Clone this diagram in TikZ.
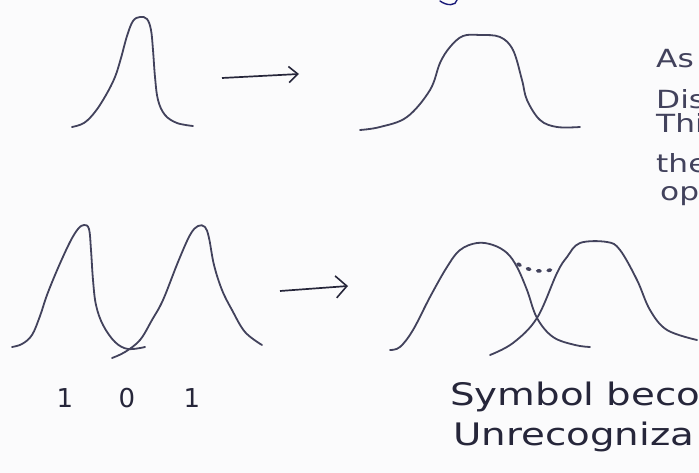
\documentclass[tikz,border=0pt]{standalone}
\usepackage{fontspec}
\setmainfont{DejaVu Sans}
\newfontfamily\handfont[FakeStretch=1.25]{DejaVu Sans}
\usetikzlibrary{arrows.meta}
\definecolor{pencil}{RGB}{66,66,92}
\definecolor{ink}{RGB}{38,38,58}
\definecolor{paper}{RGB}{251,251,252}
\definecolor{blueink}{RGB}{25,25,120}

\begin{document}
\begin{tikzpicture}[x=1pt, y=-1pt,
    pulse/.style={draw=pencil, line width=1.8pt, line cap=round, line join=round},
    arr/.style={draw=ink, line width=1.7pt, -{Straight Barb[length=9pt, width=16pt, line width=1.6pt]}},
    note/.style={text=pencil, font=\handfont\fontsize{25}{27}\selectfont, anchor=west, inner sep=0pt},
    caption/.style={text=ink, font=\handfont\fontsize{31}{33}\selectfont, anchor=west, inner sep=0pt},
    bit/.style={text=ink, font=\fontsize{26}{28}\selectfont, inner sep=0pt}
]
\fill[paper] (0,0) rectangle (699,473);
\useasboundingbox (0,0) rectangle (699,473);

% bout de trait en haut
\draw[blueink, line width=1.4pt, line cap=round] (457,0) .. controls (456,6) and (447,6) .. (440,1);

% une impulsion -> elargie
\draw[pulse] plot[smooth, tension=0.6] coordinates {(72,127) (84,123) (95,112) (106,95) (115,77) (121,58) (127,36) (133,21) (140,17) (147,19) (151,30) (153,50) (155,77) (158,100) (165,115) (177,123) (193,126)};
\coordinate (t1) at (222,78);
\coordinate (t2) at (299,74);
\draw[arr] (t1) -- (t2);
\draw[pulse] plot[smooth, tension=0.6] coordinates {(360,130) (380,127) (407,117) (430,90) (440,63) (450,47) (463,36) (480,35) (500,37) (513,50) (522,80) (527,100) (540,120) (557,127) (580,127)};

% texte coupe a droite
\node[note] (as)  at (656,59)  {As};
\node[note] (dis) at (656,99)  {Dis};
\node[note] (thi) at (656,123) {Thi};
\node[note] (the) at (656,163) {the};
\node[note] (op)  at (660,196) {op};

% deux impulsions -> chevauchement
\draw[pulse] plot[smooth, tension=0.6] coordinates {(12,347) (22,344) (32,335) (40,316) (47,295) (58,268) (70,242) (78,229) (84,225) (89,229) (91,250) (93,280) (96,305) (103,325) (115,342) (128,349) (145,347)};
\draw[pulse] plot[smooth, tension=0.6] coordinates {(112,358) (125,352) (140,340) (152,320) (163,300) (178,262) (190,235) (198,226) (205,227) (209,238) (214,265) (222,290) (232,310) (245,332) (262,345)};
\coordinate (b1) at (280,291);
\coordinate (b2) at (348,286);
\draw[arr, -{Straight Barb[length=11pt, width=22pt, line width=1.6pt]}] (b1) -- (b2);
\draw[pulse] plot[smooth, tension=0.6] coordinates {(390,350) (400,347) (413,330) (430,297) (447,267) (460,250) (477,243) (493,245) (507,253) (517,267) (527,290) (537,318) (553,337) (575,345) (590,347)};
\draw[pulse] plot[smooth, tension=0.6] coordinates {(490,355) (513,343) (537,318) (557,273) (567,257) (580,243) (607,242) (620,250) (637,280) (650,310) (667,330) (697,340)};
\draw[pencil, line width=3.5pt, line cap=round, dash pattern=on 2.5pt off 8pt] (518,264) .. controls (530,272) and (545,273) .. (557,268);

% bits
\node[bit] (one1) at (65,398)  {1};
\node[bit] (zero) at (127,398) {0};
\node[bit] (one2) at (192,398) {1};

% legende
\node[caption] (sym)   at (450,397) {Symbol beco};
\node[caption] (unrec) at (453,437) {Unrecogniza};
\end{tikzpicture}
\end{document}
